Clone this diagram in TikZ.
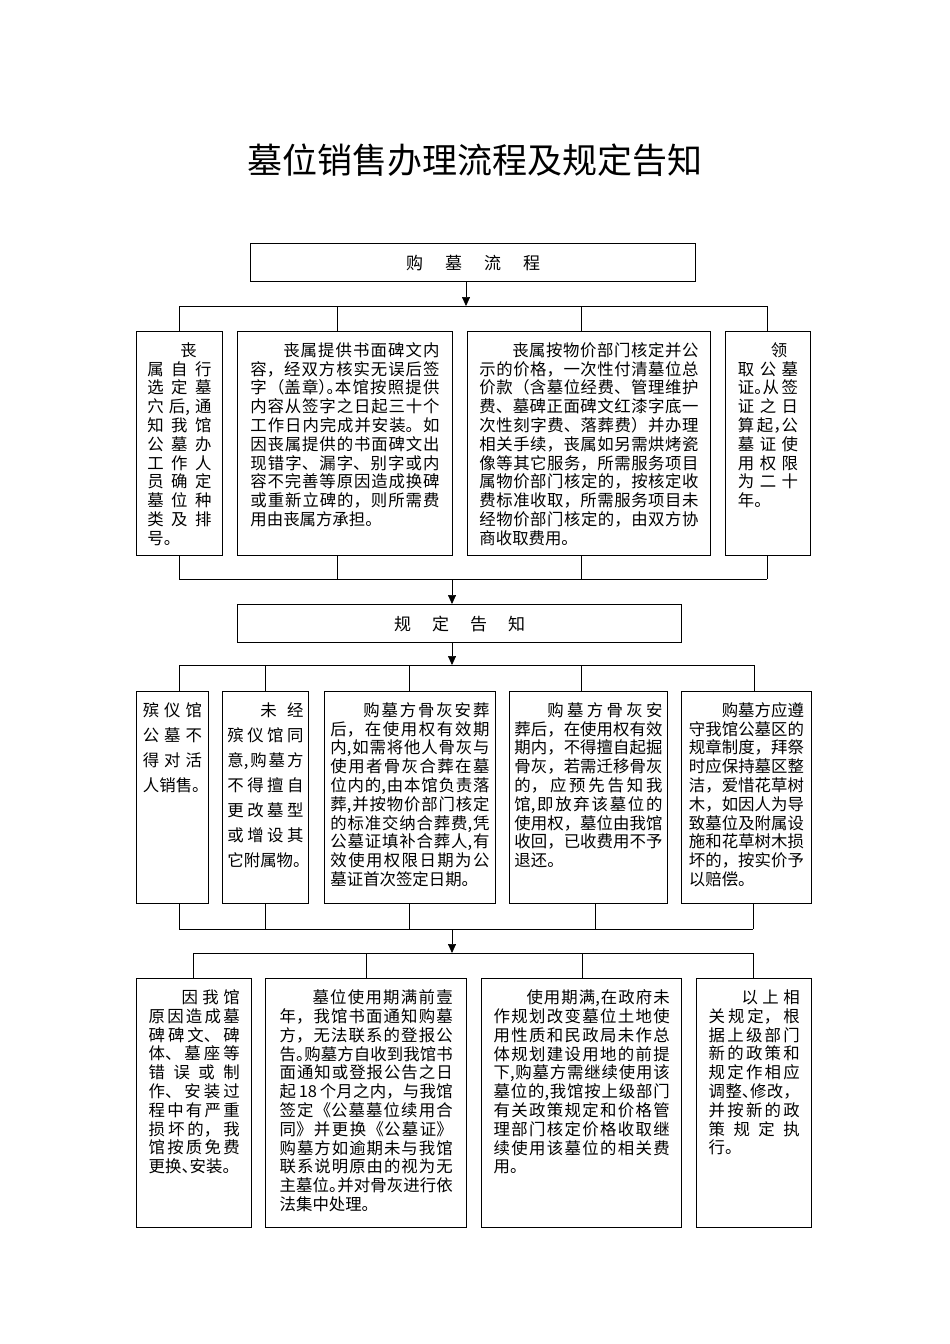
\documentclass[tikz,border=0pt]{standalone}
\usepackage{fontspec}
\setmainfont{Noto Sans CJK SC}
\usetikzlibrary{arrows.meta}
\XeTeXlinebreaklocale "zh"
\XeTeXlinebreakskip=0pt plus 2pt
\XeTeXlinebreakpenalty=10000
\tolerance=10000 \hbadness=10000 \hfuzz=8pt
\newcommand{\nl}{\linebreak}
\newcommand{\hl}[1]{\makebox[.5em][l]{#1}}
\newcommand{\ind}{\hspace*{2em}}
\newcommand{\celltext}[3]{\parbox[c][#2][t]{#1}{#3}}
\tikzset{
  cell/.style={draw, line width=0.9pt, inner sep=0pt, anchor=north west, font=\fontsize{16.4}{18.8}\selectfont},
  airycell/.style={cell, font=\fontsize{16.4}{25}\selectfont},
  bigcell/.style={cell, line width=1.4pt},
  head/.style={draw, line width=1.2pt, inner sep=0pt, anchor=north west, font=\fontsize{17}{20}\selectfont},
  link/.style={line width=0.7pt},
  feed/.style={link, -{Triangle[length=9pt,width=8pt]}},
}

\begin{document}
\begin{tikzpicture}[x=1pt,y=-1pt]
        \useasboundingbox (0,0) rectangle (950,1344);
        \node[font=\fontsize{35}{40}\selectfont] (title) at (475,160) {墓位销售办理流程及规定告知};
        \node[head, minimum width=445, minimum height=38] (buy) at (250,243) {购\hspace{22pt}墓\hspace{22pt}流\hspace{22pt}程\hspace{17pt}};
        \node[cell, minimum width=86, minimum height=224] (a1) at (136,331) {\celltext{64pt}{202pt}{\ind 丧\nl 属自行\nl 选定墓\nl 穴后,通\nl 知我馆\nl 公墓办\nl 工作人\nl 员确定\nl 墓位种\nl 类及排\nl 号。}};
        \node[cell, minimum width=215, minimum height=224] (b1) at (237,331) {\celltext{189pt}{202pt}{\ind 丧属提供书面碑文内\nl 容，经双方核实无误后签\nl 字（盖章\hl{）}\hl{。}本馆按照提供\nl 内容从签字之日起三十个\nl 工作日内完成并安装。如\nl 因丧属提供的书面碑文出\nl 现错字、漏字、别字或内\nl 容不完善等原因造成换碑\nl 或重新立碑的，则所需费\nl 用由丧属方承担。}};
        \node[cell, minimum width=243, minimum height=224] (c1) at (467,331) {\celltext{219pt}{202pt}{\ind 丧属按物价部门核定并公\nl 示的价格，一次性付清墓位总\nl 价款（含墓位经费、管理维护\nl 费、墓碑正面碑文红漆字底一\nl 次性刻字费、落葬费）并办理\nl 相关手续，丧属如另需烘烤瓷\nl 像等其它服务，所需服务项目\nl 属物价部门核定的，按核定收\nl 费标准收取，所需服务项目未\nl 经物价部门核定的，由双方协\nl 商收取费用。}};
        \node[cell, minimum width=85, minimum height=224] (d1) at (725,331) {\celltext{60pt}{202pt}{\ind 领\nl 取公墓\nl 证\hl{。}从签\nl 证之日\nl 算起\hl{，}公\nl 墓证使\nl 用权限\nl 为二十\nl 年。}};
        \node[head, minimum width=444, minimum height=38] (rule) at (237,604) {规\hspace{21pt}定\hspace{21pt}告\hspace{21pt}知\hspace{17pt}};
        \node[airycell, minimum width=72, minimum height=212] (a2) at (136,691) {\celltext{59pt}{190pt}{殡仪馆\nl 公墓不\nl 得对活\nl 人销售\hl{。}}};
        \node[airycell, minimum width=86, minimum height=212] (b2) at (222,691) {\celltext{76pt}{190pt}{\ind 未经\nl 殡仪馆同\nl 意,购墓方\nl 不得擅自\nl 更改墓型\nl 或增设其\nl 它附属物\hl{。}}};
        \node[cell, minimum width=171, minimum height=212] (c2) at (324,691) {\celltext{159pt}{190pt}{\ind 购墓方骨灰安葬\nl 后，在使用权有效期\nl 内,如需将他人骨灰与\nl 使用者骨灰合葬在墓\nl 位内的,由本馆负责落\nl 葬,并按物价部门核定\nl 的标准交纳合葬费,凭\nl 公墓证填补合葬人,有\nl 效使用权限日期为公\nl 墓证首次签定日期。}};
        \node[cell, minimum width=158, minimum height=212] (d2) at (509,691) {\celltext{148pt}{190pt}{\ind 购墓方骨灰安\nl 葬后，在使用权有效\nl 期内，不得擅自起掘\nl 骨灰，若需迁移骨灰\nl 的，应预先告知我\nl 馆,即放弃该墓位的\nl 使用权，墓位由我馆\nl 收回，已收费用不予\nl 退还。}};
        \node[cell, minimum width=130, minimum height=212] (e2) at (681,691) {\celltext{115pt}{190pt}{\ind 购墓方应遵\nl 守我馆公墓区的\nl 规章制度，拜祭\nl 时应保持墓区整\nl 洁，爱惜花草树\nl 木，如因人为导\nl 致墓位及附属设\nl 施和花草树木损\nl 坏的，按实价予\nl 以赔偿。}};
        \node[bigcell, minimum width=115, minimum height=249] (a3) at (136,978) {\celltext{91pt}{227pt}{\ind 因我馆\nl 原因造成墓\nl 碑碑文、碑\nl 体、墓座等\nl 错误或制\nl 作、安装过\nl 程中有严重\nl 损坏的，我\nl 馆按质免费\nl 更换\hl{、}安装。}};
        \node[bigcell, minimum width=201, minimum height=249] (b3) at (265,978) {\celltext{173pt}{227pt}{\ind 墓位使用期满前壹\nl 年，我馆书面通知购墓\nl 方，无法联系的登报公\nl 告\hl{。}购墓方自收到我馆书\nl 面通知或登报公告之日\nl 起\,18\,个月之内，与我馆\nl 签定《公墓墓位续用合\nl 同》并更换《公墓证》\nl 购墓方如逾期未与我馆\nl 联系说明原由的视为无\nl 主墓位\hl{。}并对骨灰进行依\nl 法集中处理。}};
        \node[bigcell, minimum width=200, minimum height=249] (c3) at (481,978) {\celltext{176pt}{227pt}{\ind 使用期满,在政府未\nl 作规划改变墓位土地使\nl 用性质和民政局未作总\nl 体规划建设用地的前提\nl 下,购墓方需继续使用该\nl 墓位的,我馆按上级部门\nl 有关政策规定和价格管\nl 理部门核定价格收取继\nl 续使用该墓位的相关费\nl 用。}};
        \node[bigcell, minimum width=115, minimum height=249] (d3) at (696,978) {\celltext{91pt}{227pt}{\ind 以上相\nl 关规定，根\nl 据上级部门\nl 新的政策和\nl 规定作相应\nl 调整\hl{、}修改，\nl 并按新的政\nl 策规定执\nl 行。}};
        \coordinate (t1) at (466,306);
        \coordinate (m1) at (452,579);
        \coordinate (t2) at (452,665);
        \coordinate (m2) at (452,929);
        \coordinate (t3) at (452,953);
        \foreach \n/\x in {a1/179,b1/337,c1/581,d1/767}{
            \coordinate (\n-up) at (\x,306);
            \coordinate (\n-dn) at (\x,579);
            \draw[link] (\n-up) -- (\n-up |- \n.north);
            \draw[link] (\n-dn |- \n.south) -- (\n-dn);
        }
        \foreach \n/\x/\y in {a2/179/179,b2/265/265,c2/409/409,d2/581/595,e2/754/753}{
            \coordinate (\n-up) at (\x,665);
            \coordinate (\n-dn) at (\y,929);
            \draw[link] (\n-up) -- (\n-up |- \n.north);
            \draw[link] (\n-dn |- \n.south) -- (\n-dn);
        }
        \foreach \n/\x in {a3/193,b3/366,c3/582,d3/753}{
            \coordinate (\n-up) at (\x,953);
            \draw[link] (\n-up) -- (\n-up |- \n.north);
        }
        \draw[link] (a1-up) -- (d1-up);
        \draw[link] (a1-dn) -- (d1-dn);
        \draw[link] (a2-up) -- (e2-up);
        \draw[link] (a2-dn) -- (e2-dn);
        \draw[link] (a3-up) -- (d3-up);
        \draw[feed] (t1 |- buy.south) -- (t1);
        \draw[feed] (m1) -- (m1 |- rule.north);
        \draw[feed] (t2 |- rule.south) -- (t2);
        \draw[feed] (m2) -- (t3);
\end{tikzpicture}
\end{document}
